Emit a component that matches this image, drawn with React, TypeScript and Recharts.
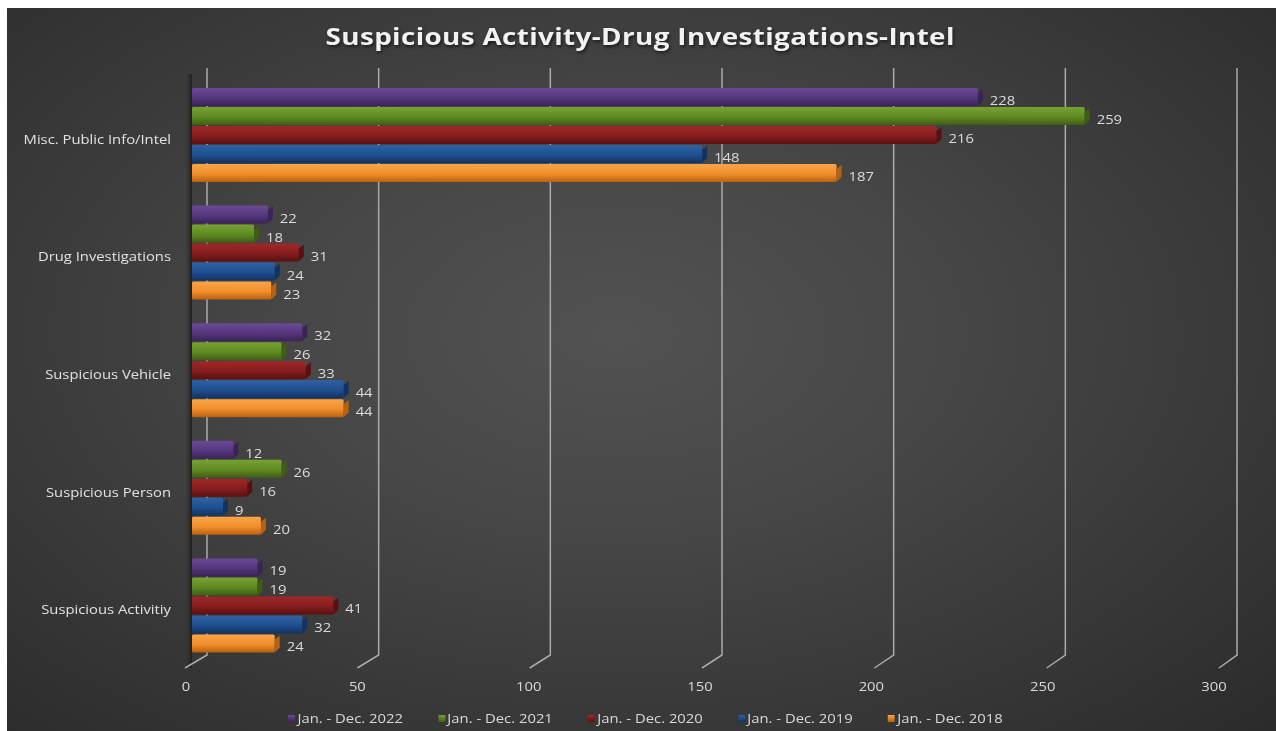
import React from "react";
import {
  BarChart,
  Bar,
  XAxis,
  YAxis,
  CartesianGrid,
  Legend,
  LabelList,
} from "recharts";

const categories = [
  "Misc. Public Info/Intel",
  "Drug Investigations",
  "Suspicious Vehicle",
  "Suspicious Person",
  "Suspicious Activitiy",
];

const y2022 = [228, 22, 32, 12, 19];
const y2021 = [259, 18, 26, 26, 19];
const y2020 = [216, 31, 33, 16, 41];
const y2019 = [148, 24, 44, 9, 32];
const y2018 = [187, 23, 44, 20, 24];

const xTicks = [0, 50, 100, 150, 200, 250, 300];

const seriesDefs = [
  { key: "s2022", name: "Jan. - Dec. 2022", values: y2022, top: "#6a4a96", main: "#55377d", dark: "#3a2358" },
  { key: "s2021", name: "Jan. - Dec. 2021", values: y2021, top: "#77a232", main: "#5f8a22", dark: "#3f5e14" },
  { key: "s2020", name: "Jan. - Dec. 2020", values: y2020, top: "#a02828", main: "#861d1d", dark: "#5a1010" },
  { key: "s2019", name: "Jan. - Dec. 2019", values: y2019, top: "#2e62a6", main: "#1f4f8e", dark: "#123262" },
  { key: "s2018", name: "Jan. - Dec. 2018", values: y2018, top: "#f9a548", main: "#f28e2b", dark: "#b8620f" },
];

const data = categories.map((c, i) => {
  const row: Record<string, string | number> = { category: c };
  seriesDefs.forEach((s) => {
    row[s.key] = s.values[i];
  });
  return row;
});

const FONT = "'Open Sans', 'Noto Sans', sans-serif";
const STRETCH = 1.14;

const makeShape = (s: (typeof seriesDefs)[number]) => (props: any) => {
  const { x, y, width, height } = props;
  if (width == null || width <= 0) return <g />;
  const d = 5;
  const side = `M${x + width},${y + d} L${x + width + d},${y + 1} L${x + width + d},${y + height - d} L${x + width},${y + height} Z`;
  return (
    <g>
      <rect x={x} y={y} width={width} height={height} fill={`url(#grad-${s.key})`} rx={1.5} />
      <path d={side} fill={s.dark} />
    </g>
  );
};

const renderLabel = (props: any) => {
  const { x, y, width, height, value } = props;
  const tx = x + width + 12;
  const ty = y + height / 2 + 8;
  return (
    <text
      transform={`translate(${tx},${ty}) scale(${STRETCH},1)`}
      fill="#dcdcdc"
      fontSize={13}
      fontFamily={FONT}
    >
      {value}
    </text>
  );
};

const XTick = (props: any) => {
  const { x, y, payload } = props;
  const tx = x - 6 - ((x - 185) / 1034) * 6;
  const ty = y + 27;
  return (
    <text
      transform={`translate(${tx},${ty}) scale(${STRETCH},1)`}
      textAnchor="middle"
      fill="#d9d9d9"
      fontSize={13}
      fontFamily={FONT}
    >
      {payload.value}
    </text>
  );
};

const YTick = (props: any) => {
  const { x, y, payload } = props;
  return (
    <text
      transform={`translate(${x},${y + 9}) scale(${STRETCH},1)`}
      textAnchor="end"
      fill="#e2e2e2"
      fontSize={13}
      fontFamily={FONT}
    >
      {payload.value}
    </text>
  );
};

const gridLine = (props: any) => {
  const { x1, y1, y2, key, index } = props;
  const off = 15 - ((x1 - 185) / 1034) * 4;
  const bx = x1 + off;
  const pts = `${bx},${y1 - 8} ${bx},${y2 - 9} ${x1 - 7},${y2 + 4}`;
  return (
    <g key={key}>
      {index === 0 && (
        <rect x={x1 - 7} y={y1 - 2} width={7} height={y2 - y1 + 6} fill="url(#wallGrad)" />
      )}
      <polyline points={pts} fill="none" stroke="#ababab" strokeWidth={1.5} />
    </g>
  );
};

const LegendContent = () => (
  <div
    style={{
      display: "flex",
      justifyContent: "center",
      transform: `translateX(29px) scaleX(${STRETCH})`,
      transformOrigin: "center",
      gap: 31,
      fontFamily: FONT,
      fontSize: 13,
      color: "#d9d9d9",
      marginTop: 3,
    }}
  >
    {seriesDefs.map((s) => (
      <div key={s.key} style={{ display: "flex", alignItems: "center" }}>
        <span
          style={{
            display: "inline-block",
            width: 6,
            height: 7,
            marginRight: 2,
            background: `linear-gradient(${s.top}, ${s.dark})`,
          }}
        />
        <span>{s.name}</span>
      </div>
    ))}
  </div>
);

export default function App() {
  return (
    <div
      style={{
        position: "fixed",
        left: 7,
        top: 8,
        width: 1269,
        height: 723,
        background:
          "radial-gradient(ellipse at 48% 45%, #525252 0%, #474747 35%, #3a3a3a 65%, #2b2b2b 100%)",
        overflow: "hidden",
      }}
    >
      <div
        style={{
          position: "absolute",
          top: 12,
          left: 0,
          width: "100%",
          textAlign: "center",
          fontFamily: FONT,
          fontWeight: 700,
          fontSize: 23,
          letterSpacing: 0.3,
          color: "#f2f2f2",
          textShadow: "1px 2px 3px rgba(0,0,0,0.6)",
          transform: "scaleX(1.21)",
          transformOrigin: "50.5% 50%",
        }}
      >
        Suspicious Activity-Drug Investigations-Intel
      </div>
      <BarChart
        width={1269}
        height={723}
        data={data}
        layout="vertical"
        margin={{ top: 68, right: 50, bottom: 5, left: 0 }}
        barCategoryGap={12}
        barGap={1}
      >
        <defs>
          {seriesDefs.map((s) => (
            <linearGradient key={s.key} id={`grad-${s.key}`} x1="0" y1="0" x2="0" y2="1">
              <stop offset="0%" stopColor={s.top} />
              <stop offset="55%" stopColor={s.main} />
              <stop offset="100%" stopColor={s.dark} />
            </linearGradient>
          ))}
          <linearGradient id="wallGrad" x1="0" y1="0" x2="1" y2="0">
            <stop offset="0%" stopColor="#3a3a3a" stopOpacity={0.2} />
            <stop offset="100%" stopColor="#1e1e1e" />
          </linearGradient>
        </defs>
        <CartesianGrid horizontal={false} vertical={gridLine} />
        <XAxis
          type="number"
          domain={[0, 300]}
          ticks={xTicks}
          axisLine={false}
          tickLine={false}
          tickSize={0}
          tickMargin={0}
          height={42}
          tick={<XTick />}
          interval={0}
        />
        <YAxis
          type="category"
          dataKey="category"
          width={185}
          axisLine={false}
          tickLine={false}
          tickSize={0}
          tickMargin={21}
          tick={<YTick />}
          interval={0}
        />
        {seriesDefs.map((s) => (
          <Bar
            key={s.key}
            dataKey={s.key}
            name={s.name}
            fill={s.main}
            isAnimationActive={false}
            shape={makeShape(s)}
          >
            <LabelList dataKey={s.key} content={renderLabel} />
          </Bar>
        ))}
        <Legend verticalAlign="bottom" height={20} content={<LegendContent />} />
      </BarChart>
    </div>
  );
}
